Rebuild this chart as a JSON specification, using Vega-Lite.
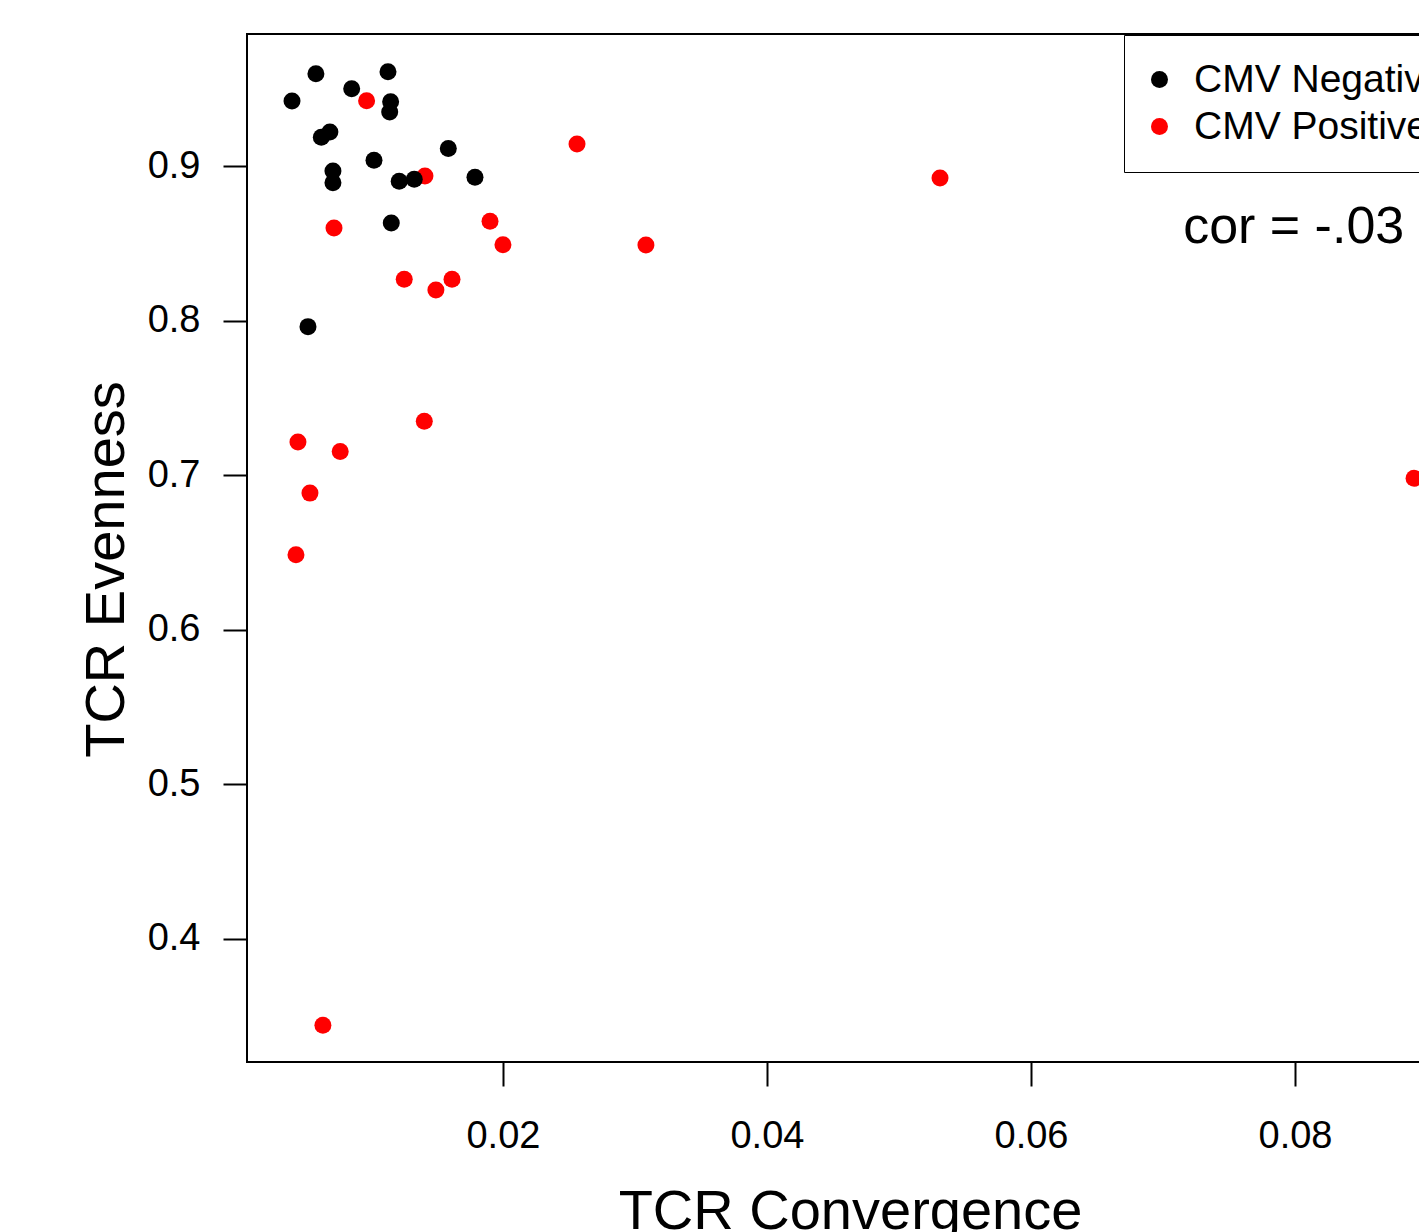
{
  "$schema": "https://vega.github.io/schema/vega-lite/v6.json",
  "autosize": "none",
  "padding": {"left": 247, "top": 34, "right": 0, "bottom": 170},
  "width": 1213,
  "height": 1028,
  "background": "white",
  "config": {
    "font": "Liberation Sans",
    "view": {"stroke": "black", "strokeWidth": 2}
  },
  "layer": [
    {
      "data": {
        "values": [
          {"group": "CMV Positive", "conv": 0.00967, "even": 0.9422},
          {"group": "CMV Positive", "conv": 0.01409, "even": 0.8935},
          {"group": "CMV Positive", "conv": 0.0072, "even": 0.8599},
          {"group": "CMV Positive", "conv": 0.01902, "even": 0.8642},
          {"group": "CMV Positive", "conv": 0.0200, "even": 0.8491},
          {"group": "CMV Positive", "conv": 0.01252, "even": 0.8267},
          {"group": "CMV Positive", "conv": 0.01614, "even": 0.8267},
          {"group": "CMV Positive", "conv": 0.01492, "even": 0.8198},
          {"group": "CMV Positive", "conv": 0.02561, "even": 0.9142},
          {"group": "CMV Positive", "conv": 0.03083, "even": 0.8489},
          {"group": "CMV Positive", "conv": 0.05311, "even": 0.8922},
          {"group": "CMV Positive", "conv": 0.08902, "even": 0.698},
          {"group": "CMV Positive", "conv": 0.01404, "even": 0.7349},
          {"group": "CMV Positive", "conv": 0.00447, "even": 0.7215},
          {"group": "CMV Positive", "conv": 0.00767, "even": 0.7153},
          {"group": "CMV Positive", "conv": 0.00538, "even": 0.6884},
          {"group": "CMV Positive", "conv": 0.00432, "even": 0.6485},
          {"group": "CMV Positive", "conv": 0.00636, "even": 0.3442},
          {"group": "CMV Negative", "conv": 0.00402, "even": 0.942},
          {"group": "CMV Negative", "conv": 0.00583, "even": 0.9597},
          {"group": "CMV Negative", "conv": 0.00854, "even": 0.950},
          {"group": "CMV Negative", "conv": 0.01129, "even": 0.961},
          {"group": "CMV Negative", "conv": 0.01149, "even": 0.9416},
          {"group": "CMV Negative", "conv": 0.01142, "even": 0.9349},
          {"group": "CMV Negative", "conv": 0.00624, "even": 0.9186},
          {"group": "CMV Negative", "conv": 0.00689, "even": 0.922},
          {"group": "CMV Negative", "conv": 0.01586, "even": 0.9114},
          {"group": "CMV Negative", "conv": 0.01023, "even": 0.9037},
          {"group": "CMV Negative", "conv": 0.00712, "even": 0.8968},
          {"group": "CMV Negative", "conv": 0.00712, "even": 0.8892},
          {"group": "CMV Negative", "conv": 0.01214, "even": 0.8901},
          {"group": "CMV Negative", "conv": 0.01328, "even": 0.8914},
          {"group": "CMV Negative", "conv": 0.01788, "even": 0.8927},
          {"group": "CMV Negative", "conv": 0.01154, "even": 0.8631},
          {"group": "CMV Negative", "conv": 0.00523, "even": 0.7961}
        ]
      },
      "mark": {"type": "point", "filled": true, "opacity": 1, "size": 289, "shape": "circle"},
      "encoding": {
        "x": {
          "field": "conv", "type": "quantitative",
          "scale": {"domain": [0.00061, 0.0925], "nice": false, "zero": false},
          "axis": {
            "title": "TCR Convergence",
            "values": [0.02, 0.04, 0.06, 0.08],
            "format": ".2f",
            "grid": false, "domain": false,
            "tickColor": "black", "tickWidth": 2, "tickSize": 24,
            "labelFontSize": 38, "labelColor": "black", "labelPadding": 31, "labelFont": "Liberation Sans",
            "titleFontSize": 56, "titleFontWeight": "normal", "titleColor": "black", "titleFont": "Liberation Sans",
            "titleX": 603, "titleY": 166, "titleBaseline": "alphabetic", "titleAlign": "center"
          }
        },
        "y": {
          "field": "even", "type": "quantitative",
          "scale": {"domain": [0.3204, 0.9854], "nice": false, "zero": false},
          "axis": {
            "title": "TCR Evenness",
            "values": [0.4, 0.5, 0.6, 0.7, 0.8, 0.9],
            "format": ".1f",
            "grid": false, "domain": false,
            "tickColor": "black", "tickWidth": 2, "tickSize": 24,
            "labelFontSize": 38, "labelColor": "black", "labelPadding": 23, "labelFont": "Liberation Sans",
            "titleFontSize": 56, "titleFontWeight": "normal", "titleColor": "black", "titleFont": "Liberation Sans",
            "titleX": -124, "titleY": 535, "titleAngle": -90, "titleBaseline": "alphabetic", "titleAlign": "center"
          }
        },
        "color": {
          "field": "group", "type": "nominal",
          "scale": {"domain": ["CMV Negative", "CMV Positive"], "range": ["#000000", "#FF0000"]},
          "legend": {
            "title": null,
            "orient": "none",
            "legendX": 877,
            "legendY": 1,
            "strokeColor": "black",
            "fillColor": "white",
            "padding": 25,
            "rowPadding": 7,
            "symbolType": "circle",
            "symbolSize": 289,
            "symbolStrokeWidth": 0,
            "symbolOffset": -9,
            "labelFontSize": 39,
            "labelFont": "Liberation Sans",
            "labelColor": "black",
            "labelOffset": 15,
            "labelLimit": 1000,
            "encode": {"legend": {"update": {"strokeWidth": {"value": 2}}}}
          }
        }
      }
    },
    {
      "data": {"values": [{"conv": 0.0799, "even": 0.8502, "label": "cor = -.03"}]},
      "mark": {"type": "text", "fontSize": 52, "font": "Liberation Sans", "color": "black", "align": "center", "baseline": "alphabetic"},
      "encoding": {
        "x": {"field": "conv", "type": "quantitative"},
        "y": {"field": "even", "type": "quantitative"},
        "text": {"field": "label"}
      }
    }
  ]
}
